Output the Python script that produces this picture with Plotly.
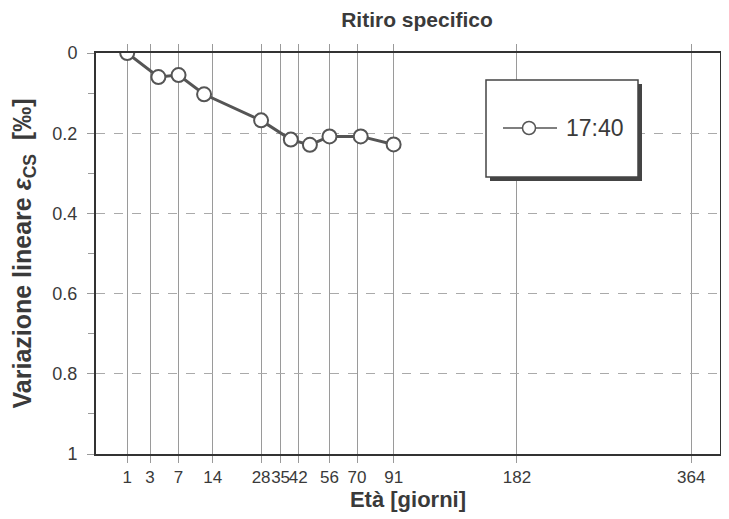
import numpy as np
import plotly.graph_objects as go

# Data
days = [1, 4, 7, 12, 28, 39, 47, 56, 72, 91]
shrinkage = [0.0, 0.06, 0.055, 0.103, 0.168, 0.216, 0.229, 0.208, 0.208, 0.228]
series_name = "17:40"

tick_days = [1, 3, 7, 14, 28, 35, 42, 56, 70, 91, 182, 364]
tick_labels = ["1", "3", "7", "14", "28", "35", "42", "56", "70", "91", "182", "364"]
y_ticks = [0, 0.2, 0.4, 0.6, 0.8, 1.0]
y_labels = ["0", "0.2", "0.4", "0.6", "0.8", "1"]

TXT = "#3a3a3a"
LINE = "#555555"
FONT = "Liberation Sans, Arial, sans-serif"
NARROW = "Liberation Sans Narrow, Arial Narrow, Liberation Sans, sans-serif"

# page body adds an 8px offset; figure is sized to compensate
W, H = 721, 511
ML, MR, MT, MB = 88, 9, 45, 65
pw, ph = W - ML - MR, H - MT - MB
OFF = 8


def px(x):  # page pixel -> paper x
    return (x - OFF - ML) / pw


def py(y):  # page pixel -> paper y
    return (OFF + MT + ph - y) / ph


fig = go.Figure()
fig.add_trace(go.Scatter(
    x=np.sqrt(days), y=shrinkage, name=series_name, mode="lines+markers",
    line=dict(color=LINE, width=3),
    marker=dict(symbol="circle", size=14, color="white",
                line=dict(color=LINE, width=2)),
    showlegend=False,
))

# Legend box with shadow, drawn as a framed key
bx0, bx1, by0, by1 = 486, 638, 80, 177
fig.add_shape(type="rect", xref="paper", yref="paper",
              x0=px(bx0 + 4), x1=px(bx1 + 4), y0=py(by1 + 4), y1=py(by0 + 4),
              fillcolor="#444444", line=dict(width=0), layer="above")
fig.add_shape(type="rect", xref="paper", yref="paper",
              x0=px(bx0), x1=px(bx1), y0=py(by1), y1=py(by0),
              fillcolor="white", line=dict(color="#444444", width=1.5), layer="above")
ky = 128
fig.add_shape(type="line", xref="paper", yref="paper",
              x0=px(503), x1=px(557), y0=py(ky), y1=py(ky),
              line=dict(color=LINE, width=1.5), layer="above")
fig.add_shape(type="circle", xref="paper", yref="paper",
              xsizemode="pixel", ysizemode="pixel",
              xanchor=px(529), yanchor=py(ky), x0=-6.5, x1=6.5, y0=-6.5, y1=6.5,
              fillcolor="white", line=dict(color=LINE, width=1.5), layer="above")
fig.add_annotation(xref="paper", yref="paper", x=px(564), y=py(ky),
                   xanchor="left", yanchor="middle", showarrow=False,
                   text=series_name, font=dict(size=23, color=TXT))

fig.update_layout(
    width=W, height=H,
    margin=dict(l=ML, r=MR, t=MT, b=MB, autoexpand=False),
    paper_bgcolor="white", plot_bgcolor="white",
    font=dict(family=FONT, color=TXT, size=14),
    title=dict(text="<b>Ritiro specifico</b>", x=(417 - OFF) / W, xanchor="center",
               y=1 - (20 - OFF) / H, yanchor="middle", font=dict(size=21, color=TXT)),
    showlegend=False,
    xaxis=dict(
        range=[0, 20], tickmode="array", tickvals=np.sqrt(tick_days), ticktext=tick_labels,
        tickangle=0, automargin=False,
        showgrid=True, gridcolor="#9a9a9a", gridwidth=1,
        ticks="outside", ticklen=7, tickcolor="#9a9a9a", tickwidth=1,
        showline=True, linecolor="#333333", linewidth=2, mirror="ticks",
        zeroline=False, tickfont=dict(family=NARROW, size=17, color=TXT),
        title=dict(text="<b>Età [giorni]</b>", font=dict(size=22, color=TXT), standoff=2),
    ),
    yaxis=dict(
        range=[1, 0], tickmode="array", tickvals=y_ticks, ticktext=y_labels,
        automargin=False,
        showgrid=True, gridcolor="#aaaaaa", gridwidth=1, griddash="dash",
        ticks="outside", ticklen=7, tickcolor="#9a9a9a", tickwidth=1,
        ticklabelstandoff=6,
        minor=dict(dtick=0.1, tick0=0, ticks="outside", ticklen=6,
                   tickcolor="#9a9a9a", showgrid=False),
        showline=True, linecolor="#333333", linewidth=2, mirror=True,
        zeroline=False, tickfont=dict(family=NARROW, size=18, color=TXT),
        title=dict(text="<b>Variazione lineare <i>ε</i><sub>CS</sub>  [‰]</b>",
                   font=dict(size=25, color=TXT), standoff=14),
    ),
)

fig.write_html("out.html")
